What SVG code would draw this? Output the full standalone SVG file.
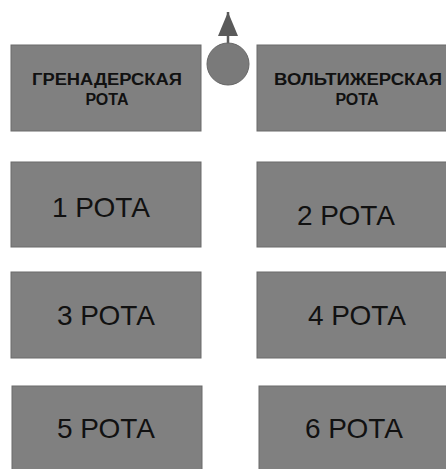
<svg xmlns="http://www.w3.org/2000/svg" width="446" height="469" viewBox="0 0 446 469">
<style>
.box{fill:#808080;stroke:#6a6a6a;stroke-width:1}
.t{font-family:"Liberation Sans",Arial,sans-serif;fill:#111111;text-anchor:middle}
.big{font-size:28px}
.sm{font-size:16px;font-weight:bold}
</style>
<defs>
<marker id="ah" viewBox="0 0 24 20" refX="24" refY="10" markerWidth="24" markerHeight="20" markerUnits="userSpaceOnUse" orient="auto">
<path d="M0,0 L24,10 L0,20 Z" fill="#5a5a5a"/>
</marker>
</defs>
<rect width="446" height="469" fill="#ffffff"/>
<g id="connectors">
<line x1="228" y1="44" x2="228" y2="12" stroke="#5a5a5a" stroke-width="2.5" marker-end="url(#ah)"/>
</g>
<g id="commander">
<circle cx="228" cy="64" r="21" fill="#7a7a7a" stroke="#666" stroke-width="1"/>
</g>
<g id="grenadier">
<rect class="box" x="11" y="45" width="190" height="86"/>
<text class="t sm" x="107" y="85" textLength="150" lengthAdjust="spacingAndGlyphs">ГРЕНАДЕРСКАЯ</text>
<text class="t sm" x="107" y="105">РОТА</text>
</g>
<g id="voltigeur">
<rect class="box" x="257" y="45" width="190" height="86"/>
<text class="t sm" x="358" y="85" textLength="168" lengthAdjust="spacingAndGlyphs">ВОЛЬТИЖЕРСКАЯ</text>
<text class="t sm" x="357" y="105">РОТА</text>
</g>
<g id="rota1">
<rect class="box" x="11" y="162" width="190" height="85"/>
<text class="t big" x="101" y="217">1 РОТА</text>
</g>
<g id="rota2">
<rect class="box" x="257" y="162" width="190" height="85"/>
<text class="t big" x="346" y="225">2 РОТА</text>
</g>
<g id="rota3">
<rect class="box" x="11" y="272" width="190" height="86"/>
<text class="t big" x="106" y="325">3 РОТА</text>
</g>
<g id="rota4">
<rect class="box" x="257" y="272" width="190" height="86"/>
<text class="t big" x="357" y="325">4 РОТА</text>
</g>
<g id="rota5">
<rect class="box" x="12" y="386" width="190" height="84"/>
<text class="t big" x="106" y="438">5 РОТА</text>
</g>
<g id="rota6">
<rect class="box" x="259" y="386" width="190" height="84"/>
<text class="t big" x="354" y="438">6 РОТА</text>
</g>
</svg>
